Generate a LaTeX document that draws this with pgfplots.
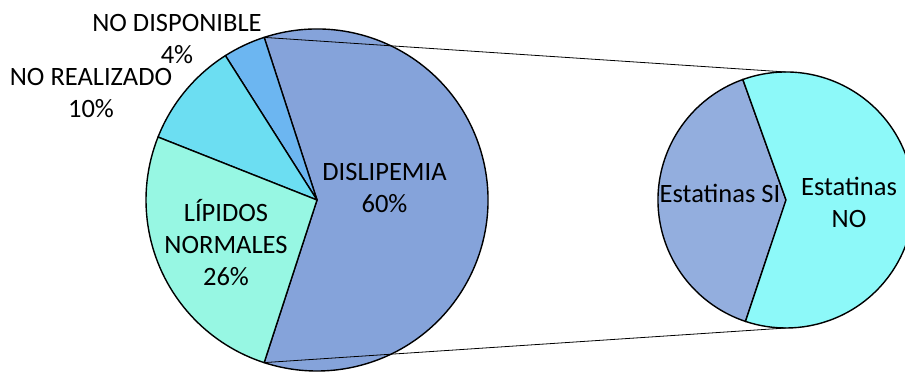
\documentclass[border=0pt]{standalone}
\usepackage{pgfplots}
\pgfplotsset{compat=1.18}
\usepackage{fontspec}
\setmainfont{Carlito}

% slice colours
\definecolor{cDislip}{HTML}{85A3DA}
\definecolor{cNoDisp}{HTML}{6CB6F1}
\definecolor{cNoReal}{HTML}{6CDEF2}
\definecolor{cLipNorm}{HTML}{97F7E3}
\definecolor{cEstSi}{HTML}{93AEDE}
\definecolor{cEstNo}{HTML}{8DF9F9}

% shares of the main pie (percent)
\def\vDislip{60}
\def\vNoDisp{4}
\def\vNoReal{10}
\def\vLipNorm{26}
% split of DISLIPEMIA shown in the secondary pie (percent)
\def\vEstSi{39.4}
\def\vEstNo{60.6}

% geometry (1 axis unit = 1bp)
\def\mcx{317}\def\mcy{172}\def\mr{171}
\def\scx{786}\def\scy{172}\def\sr{128}

\tikzset{lbl/.style={font=\fontsize{26.5bp}{32bp}\selectfont, align=center, text=black, inner sep=0pt}}

\begin{document}
\begin{tikzpicture}
\begin{axis}[
  x=1bp, y=1bp,
  xmin=0, xmax=905, ymin=0, ymax=372,
  hide axis,
  clip=true,
]
% ---- main pie: DISLIPEMIA centred on the right-hand side
\filldraw[fill=cDislip, line width=1.4bp, line join=round]
  (axis cs:\mcx,\mcy) -- ++({\vDislip*1.8}:\mr bp)
  arc[start angle={\vDislip*1.8}, delta angle={-\vDislip*3.6}, radius=\mr bp] -- cycle;
\filldraw[fill=cNoDisp, line width=1.4bp, line join=round]
  (axis cs:\mcx,\mcy) -- ++({\vDislip*1.8}:\mr bp)
  arc[start angle={\vDislip*1.8}, delta angle={\vNoDisp*3.6}, radius=\mr bp] -- cycle;
\filldraw[fill=cNoReal, line width=1.4bp, line join=round]
  (axis cs:\mcx,\mcy) -- ++({\vDislip*1.8+\vNoDisp*3.6}:\mr bp)
  arc[start angle={\vDislip*1.8+\vNoDisp*3.6}, delta angle={\vNoReal*3.6}, radius=\mr bp] -- cycle;
\filldraw[fill=cLipNorm, line width=1.4bp, line join=round]
  (axis cs:\mcx,\mcy) -- ++({\vDislip*1.8+(\vNoDisp+\vNoReal)*3.6}:\mr bp)
  arc[start angle={\vDislip*1.8+(\vNoDisp+\vNoReal)*3.6}, delta angle={\vLipNorm*3.6}, radius=\mr bp] -- cycle;

% ---- secondary pie
\filldraw[fill=cEstSi, line width=1.4bp]
  (axis cs:\scx,\scy) -- ++(109.7:\sr bp)
  arc[start angle=109.7, delta angle={\vEstSi*3.6}, radius=\sr bp] -- cycle;
\filldraw[fill=cEstNo, line width=1.4bp]
  (axis cs:\scx,\scy) -- ++(109.7:\sr bp)
  arc[start angle=109.7, delta angle={-\vEstNo*3.6}, radius=\sr bp] -- cycle;

% ---- connector lines
\draw[line width=0.8bp] (axis cs:264.2,334.6) -- (axis cs:786,300);
\draw[line width=0.8bp] (axis cs:264.2,9.4) -- (axis cs:786,44);

% ---- labels
\node[lbl] at (axis cs:384.5,183.5) {DISLIPEMIA\\60\%};
\node[lbl] at (axis cs:226,129) {LÍPIDOS\\NORMALES\\26\%};
\node[lbl] at (axis cs:91,279) {NO REALIZADO\\10\%};
\node[lbl] at (axis cs:177,333) {NO DISPONIBLE\\4\%};
\node[lbl] at (axis cs:720,179) {Estatinas SI};
\node[lbl] at (axis cs:849,169.5) {Estatinas\\NO};
\end{axis}
\pgfresetboundingbox
\path (current axis.south west) rectangle (current axis.north east);
\end{tikzpicture}
\end{document}
